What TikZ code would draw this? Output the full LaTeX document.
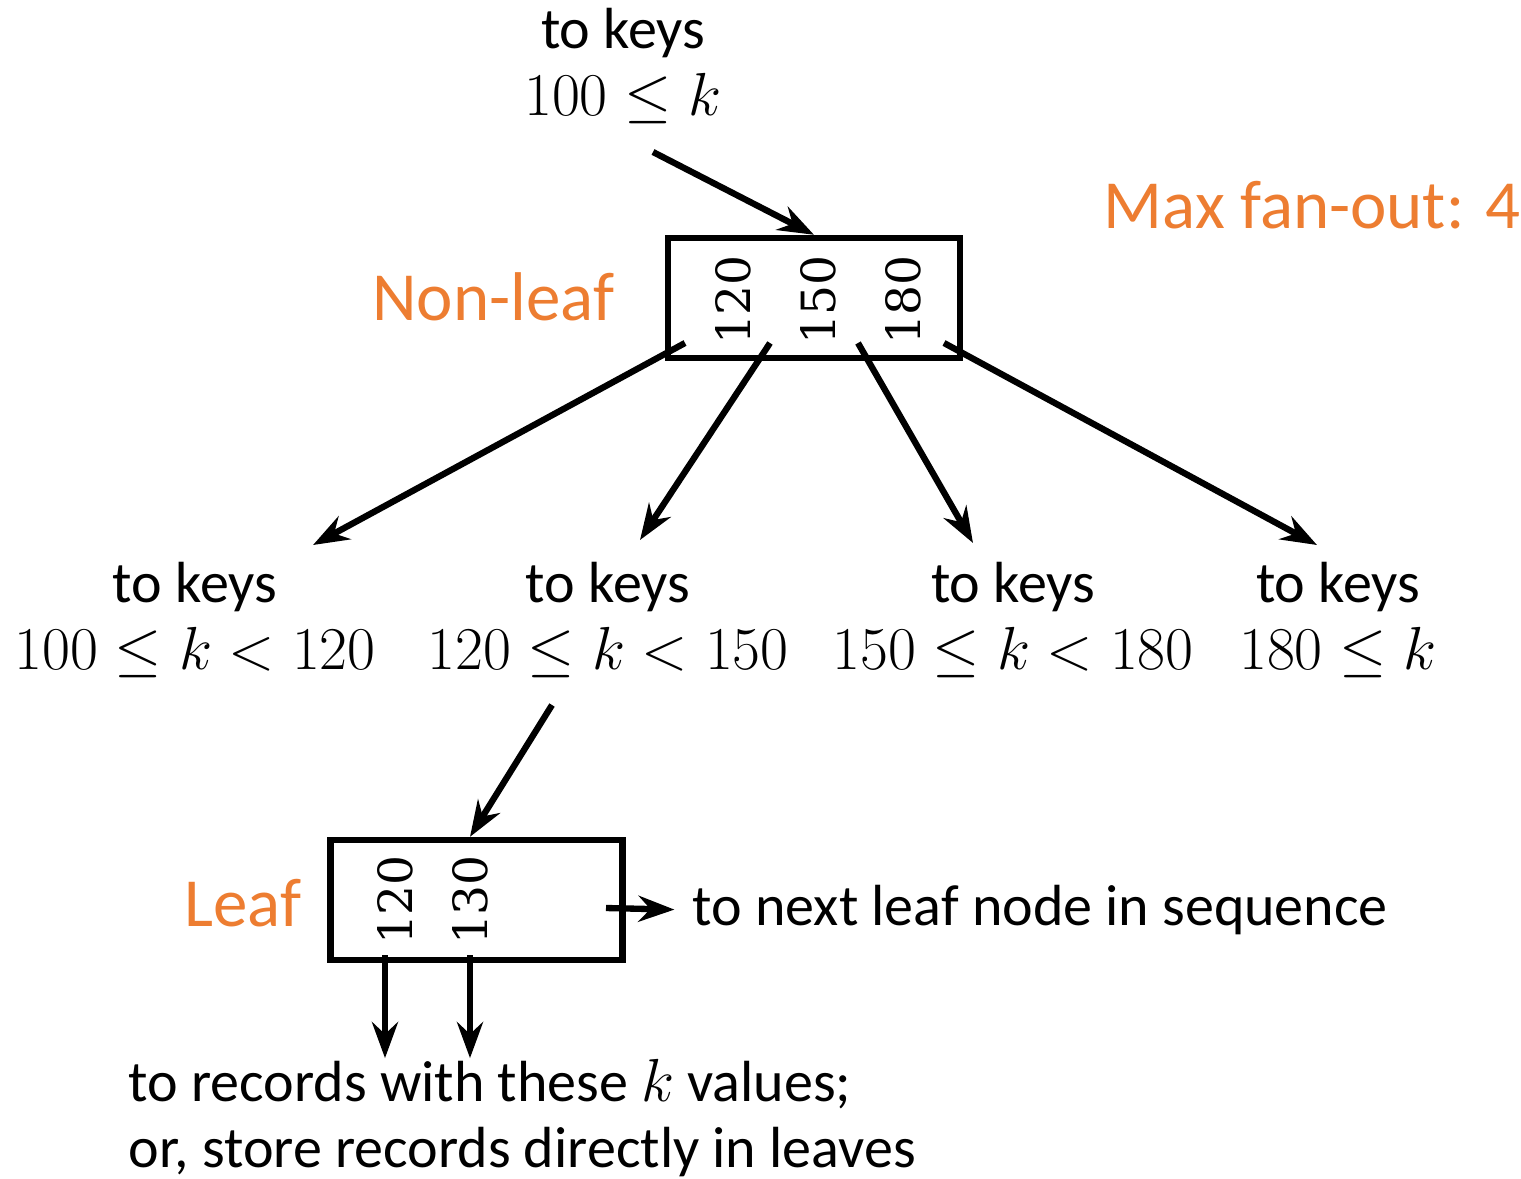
\documentclass[tikz,border=0pt]{standalone}
\usepackage[no-math]{fontspec}
\setmainfont{Carlito}
\newfontfamily\keyfont{DejaVu Serif}
\usetikzlibrary{arrows.meta,calc}
\definecolor{OrangeClr}{HTML}{ED7D31}

\begin{document}
\begin{tikzpicture}[x=0.01cm,y=-0.01cm,
  keybox/.style={draw=black,line width=1.8pt,minimum width=2.92cm,minimum height=1.2cm,inner sep=0pt},
  keynum/.style={rotate=90,inner sep=0pt,font=\keyfont\fontsize{13.4}{16}\selectfont},
  lbl/.style={align=center,inner sep=0pt,font=\fontsize{16.5}{19}\selectfont},
  tag/.style={text=OrangeClr,inner sep=0pt,font=\fontsize{19.6}{23}\selectfont},
  ptr/.style={line width=1.8pt,-{Stealth[length=3.6mm,width=2.6mm,inset=1.2mm]}}]
\useasboundingbox (0,0) rectangle (1521,1178);

% non-leaf node
\node[keybox] (nonleaf) at (814,298) {};
\node[keynum] (n1) at (733,300) {120};
\node[keynum] (n2) at (818,300) {150};
\node[keynum] (n3) at (903,300) {180};
\node[tag,anchor=east] (nltag) at (615,297) {Non-leaf};
\node[tag,anchor=west] (fan) at (1103,205) {Max fan-out: 4};

\node[lbl] (top) at (623,66) {to keys\\$100\le k$};
\coordinate (topend) at (653,152);
\draw[ptr] (topend) -- (nonleaf.north);

% children
\node[lbl] (c1) at (195,620) {to keys\\$100\le k<120$};
\node[lbl] (c2) at (608,620) {to keys\\$120\le k<150$};
\node[lbl] (c3) at (1013,620) {to keys\\$150\le k<180$};
\node[lbl] (c4) at (1338,620) {to keys\\$180\le k$};

\coordinate (p1) at (685,343);
\coordinate (p2) at (770,343);
\coordinate (p3) at (858,343);
\coordinate (p4) at (944,343);
\coordinate (e1) at (313,545);
\coordinate (e2) at (640,540);
\coordinate (e3) at (973,543);
\coordinate (e4) at (1317,545);
\foreach \i in {1,...,4}
  \draw[ptr] (p\i) -- (e\i);

% leaf node
\node[keybox] (leaf) at (476.5,900) {};
\node[keynum] (l1) at (395,900) {120};
\node[keynum] (l2) at (470,900) {130};
\node[tag,anchor=east] (lftag) at (302,903) {Leaf};

\coordinate (c2out) at (552,705);
\draw[ptr] (c2out) -- (leaf.north -| l2);

\node[lbl,anchor=west] (next) at (692,910) {to next leaf node in sequence};
\coordinate (nxt) at (606,908);
\draw[ptr,shorten >=5pt] (nxt) -- (next.west);

\node[lbl,align=left,anchor=west] (recs) at (128,1118)
  {to records with these $k$ values;\\or, store records directly in leaves};
\coordinate (r1) at (385,955);
\coordinate (r2) at (470,955);
\draw[ptr] (r1) -- (r1 |- recs.north);
\draw[ptr] (r2) -- (r2 |- recs.north);

\end{tikzpicture}
\end{document}
